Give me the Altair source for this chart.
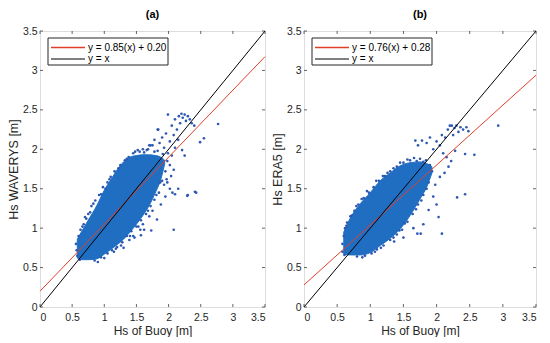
import altair as alt
import pandas as pd

TICKS = [0, 0.5, 1, 1.5, 2, 2.5, 3, 3.5]

# ---------------- Panel (a): WAVERYS ----------------
a_core_x = [0.58, 0.65, 0.75, 0.88, 1.00, 1.10, 1.20, 1.30, 1.40, 1.50, 1.60, 1.70, 1.80, 1.88, 1.94]
a_core_lo = [0.62, 0.60, 0.60, 0.61, 0.67, 0.73, 0.79, 0.86, 0.95, 1.05, 1.16, 1.29, 1.46, 1.62, 1.82]
a_core_hi = [0.86, 0.96, 1.10, 1.28, 1.48, 1.61, 1.74, 1.84, 1.90, 1.92, 1.93, 1.93, 1.92, 1.90, 1.86]

a_pts_x = [1.68, 1.72, 1.78, 1.83, 1.86, 1.90, 1.93, 1.96, 1.99, 2.02, 2.05, 2.08, 2.10, 2.13, 2.16, 2.18,
           2.20, 2.22, 2.25, 2.27, 2.30, 2.33, 2.36, 2.40, 2.10, 2.15, 2.21, 2.25, 2.08, 2.02, 1.97, 1.93,
           1.99, 2.05, 2.49, 2.77, 2.41, 2.30, 2.08, 1.82, 1.62, 1.56, 1.39, 1.73, 1.57, 1.47, 2.29, 2.43,
           2.06, 2.10, 2.15, 1.98, 2.04, 1.84, 2.55, 1.60, 1.70, 1.75,
           0.58, 0.57, 0.56, 0.60, 0.63, 0.68, 0.72, 0.75, 0.80, 0.86, 0.92, 0.98, 1.05, 1.10, 1.16, 1.25,
           1.32, 1.38, 1.45, 1.55, 1.62,
           0.85, 0.95, 1.05, 1.12, 1.20, 1.28, 1.35, 1.42, 1.50, 1.57, 1.65, 1.72, 1.78, 1.85, 1.90, 1.95,
           1.98, 1.70, 1.75, 1.88, 1.95, 2.02, 1.60, 1.45, 1.30, 1.15,
           0.66, 0.70, 0.78, 0.83, 0.95, 1.02, 1.08, 1.22, 1.35, 1.48, 1.52, 1.66, 1.78, 1.83, 1.91, 0.62,
           0.90, 1.00, 1.18, 1.26, 1.40, 1.53, 1.68, 1.81, 1.87]
a_pts_y = [2.00, 2.05, 2.12, 2.25, 2.08, 2.15, 2.02, 2.20, 2.44, 2.10, 2.30, 2.18, 2.38, 2.25, 2.42, 2.33,
           2.45, 2.40, 2.44, 2.36, 2.42, 2.38, 2.33, 2.30, 2.02, 2.12, 1.99, 1.92, 1.74, 1.80, 1.62, 1.55,
           1.95, 1.92, 2.09, 2.32, 1.46, 1.42, 0.98, 1.11, 0.98, 0.98, 0.85, 0.97, 0.91, 0.88, 1.41, 1.45,
           1.45, 1.43, 1.50, 1.58, 1.66, 2.25, 2.14, 2.00, 2.05, 2.05,
           0.65, 0.72, 0.80, 0.90, 0.98, 1.05, 1.12, 1.18, 1.28, 1.35, 1.42, 1.52, 1.58, 1.65, 1.72, 1.80,
           1.86, 1.90, 1.95, 1.97, 1.96,
           0.59, 0.63, 0.68, 0.72, 0.76, 0.82, 0.90, 0.96, 1.02, 1.10, 1.18, 1.28, 1.36, 1.45, 1.60, 1.72,
           1.85, 1.15, 1.22, 1.30, 1.40, 1.50, 1.05, 0.90, 0.75, 0.70,
           1.02, 1.14, 1.20, 1.31, 1.43, 1.50, 1.62, 1.76, 1.88, 1.97, 1.99, 1.99, 1.97, 1.98, 1.94, 0.60,
           0.57, 0.62, 0.74, 0.78, 0.90, 1.02, 1.22, 1.42, 1.58]

a_fit_label = "y = 0.85(x) + 0.20"
a_fit_x = [0, 3.5]
a_fit_y = [0.20, 3.175]

# ---------------- Panel (b): ERA5 ----------------
b_core_x = [0.60, 0.70, 0.85, 1.00, 1.15, 1.30, 1.45, 1.60, 1.75, 1.85, 1.93]
b_core_lo = [0.67, 0.66, 0.66, 0.69, 0.78, 0.87, 0.99, 1.16, 1.37, 1.52, 1.70]
b_core_hi = [0.95, 1.13, 1.31, 1.45, 1.60, 1.70, 1.79, 1.83, 1.84, 1.82, 1.78]

b_pts_x = [1.68, 1.72, 1.78, 1.85, 1.90, 1.95, 2.00, 2.05, 2.08, 2.13, 2.17, 2.20, 2.23, 2.27, 2.30, 2.33,
           2.36, 2.40, 2.45, 2.48, 2.25, 2.10, 2.15, 2.28, 2.43, 2.57, 2.93, 2.31, 2.43, 2.08, 1.76, 1.71,
           1.36, 1.88, 2.03, 1.09, 1.98, 2.05, 2.12, 1.95, 2.00, 1.80, 1.65, 1.50, 2.18, 2.22,
           0.58, 0.58, 0.60, 0.62, 0.65, 0.70, 0.76, 0.82, 0.90, 0.98, 1.05, 1.13, 1.22, 1.30, 1.40, 1.50,
           1.60, 1.70, 1.80,
           0.80, 0.92, 1.02, 1.10, 1.20, 1.30, 1.40, 1.48, 1.56, 1.64, 1.72, 1.80, 1.88, 1.93,
           0.64, 0.72, 0.79, 0.87, 0.95, 1.19, 1.26, 1.35, 1.45, 1.56, 1.66, 1.75, 1.84, 1.90,
           0.88, 1.07, 1.16, 1.35, 1.44, 1.52, 1.69, 1.77, 1.85, 0.61]
b_pts_y = [2.11, 2.05, 2.11, 2.08, 2.15, 2.00, 2.10, 2.05, 2.18, 2.15, 2.25, 2.30, 2.30, 2.27, 2.30, 2.22,
           2.28, 2.25, 2.28, 2.23, 2.18, 1.95, 1.90, 1.98, 1.94, 1.93, 2.30, 1.39, 1.43, 0.93, 0.93, 0.93,
           0.83, 1.23, 1.14, 1.60, 1.55, 1.65, 1.70, 1.40, 1.30, 1.05, 1.00, 0.88, 1.78, 1.85,
           0.70, 0.80, 0.90, 1.00, 1.07, 1.15, 1.22, 1.30, 1.38, 1.45, 1.52, 1.60, 1.66, 1.72, 1.78, 1.83,
           1.86, 1.85, 1.84,
           0.64, 0.65, 0.68, 0.73, 0.78, 0.85, 0.92, 0.98, 1.08, 1.18, 1.30, 1.42, 1.58, 1.72,
           1.03, 1.16, 1.28, 1.37, 1.47, 1.66, 1.70, 1.76, 1.83, 1.87, 1.89, 1.88, 1.86, 1.80,
           0.63, 0.70, 0.75, 0.88, 0.97, 1.06, 1.24, 1.35, 1.50, 0.66]

b_fit_label = "y = 0.76(x) + 0.28"
b_fit_x = [0, 3.5]
b_fit_y = [0.28, 2.94]

ID_LABEL = "y = x"
ID_X = [0, 3.5]
ID_Y = [0, 3.5]

FONT = "Liberation Sans"
AXC = "#262626"
CORE = "#1F6EC2"
DOT = "#2C58B2"
RED = "#E0402A"


def panel(title, ylab, cx, clo, chi, px, py, fit_label, fx, fy, W, H):
    xs = alt.Scale(domain=[0, 3.5], nice=False, zero=False)
    ys = alt.Scale(domain=[0, 3.5], nice=False, zero=False)
    xaxis = alt.Axis(values=TICKS, format=".1~f", title="Hs of Buoy [m]", ticks=False, domain=False,
                     grid=False, labelPadding=5, titlePadding=3, titleFontWeight="normal",
                     labelFontSize=10.5, titleFontSize=12, labelFont=FONT, titleFont=FONT,
                     labelColor=AXC, titleColor=AXC)
    yaxis = alt.Axis(values=TICKS, format=".1~f", title=ylab, ticks=False, domain=False,
                     grid=False, labelPadding=3, titlePadding=2, titleFontWeight="normal",
                     labelFontSize=10.5, titleFontSize=12.5, labelFont=FONT, titleFont=FONT,
                     labelColor=AXC, titleColor=AXC)

    def X(f):
        return alt.X(f, type="quantitative", scale=xs, axis=xaxis)

    def Y(f):
        return alt.Y(f, type="quantitative", scale=ys, axis=yaxis)

    core = pd.DataFrame({"x": cx, "lo": clo, "hi": chi})
    pts = pd.DataFrame({"x": px, "y": py})
    lines = pd.DataFrame({
        "x": list(fx) + list(ID_X),
        "y": list(fy) + list(ID_Y),
        "series": [fit_label] * len(fx) + [ID_LABEL] * len(ID_X),
    })
    tk = pd.DataFrame({"t": TICKS})

    area = alt.Chart(core).mark_area(color=CORE, stroke=CORE, strokeWidth=1, interpolate="monotone").encode(
        x=X("x"), y=Y("lo"), y2=alt.Y2("hi"))
    dots = alt.Chart(pts).mark_circle(size=7, color=DOT, opacity=1).encode(x=X("x"), y=Y("y"))
    ln = alt.Chart(lines).mark_line(strokeWidth=1).encode(
        x=X("x"), y=Y("y"), detail="series:N",
        color=alt.Color("series:N", scale=alt.Scale(domain=[fit_label, ID_LABEL], range=[RED, "#000000"]),
                        legend=None))
    tb = alt.Chart(tk).mark_tick(color=AXC, thickness=1, size=3).encode(x=X("t"), y=alt.value(H - 1.5))
    tt = alt.Chart(tk).mark_tick(color=AXC, thickness=1, size=3).encode(x=X("t"), y=alt.value(1.5))
    tl = alt.Chart(tk).mark_tick(color=AXC, thickness=1, size=3).encode(y=Y("t"), x=alt.value(1.5))
    tr = alt.Chart(tk).mark_tick(color=AXC, thickness=1, size=3).encode(y=Y("t"), x=alt.value(W - 1.5))

    # legend box (MATLAB style, inside top-left)
    one = pd.DataFrame({"a": [0]})
    box = alt.Chart(one).mark_rect(fill="white", stroke=AXC, strokeWidth=1).encode(
        x=alt.value(8), x2=alt.value(128), y=alt.value(7), y2=alt.value(34))
    r1 = alt.Chart(one).mark_rule(color=RED, stroke=RED, strokeWidth=1.5).encode(
        x=alt.value(11), x2=alt.value(45), y=alt.value(16.5))
    r2 = alt.Chart(one).mark_rule(color="#000000", stroke="#000000", strokeWidth=1).encode(
        x=alt.value(11), x2=alt.value(45), y=alt.value(28))
    t1 = alt.Chart(pd.DataFrame({"label": [fit_label]})).mark_text(
        align="left", baseline="middle", font=FONT, fontSize=10, color="#000000").encode(
        text="label:N", x=alt.value(48), y=alt.value(16.5))
    t2 = alt.Chart(pd.DataFrame({"label": [ID_LABEL]})).mark_text(
        align="left", baseline="middle", font=FONT, fontSize=10, color="#000000").encode(
        text="label:N", x=alt.value(48), y=alt.value(28))

    return alt.layer(area, dots, ln, tb, tt, tl, tr, box, r1, r2, t1, t2).properties(
        width=W, height=H,
        title=alt.Title(title, fontWeight="bold", fontSize=11, font=FONT, offset=6, color="#000000"))


pa = panel("(a)", "Hs WAVERYS [m]", a_core_x, a_core_lo, a_core_hi, a_pts_x, a_pts_y,
           a_fit_label, a_fit_x, a_fit_y, 225, 276)
pb = panel("(b)", "Hs ERA5 [m]", b_core_x, b_core_lo, b_core_hi, b_pts_x, b_pts_y,
           b_fit_label, b_fit_x, b_fit_y, 232, 276)

chart = alt.hconcat(pa, pb, spacing=39, bounds="flush").properties(
    padding={"left": -2, "top": 0, "right": 0, "bottom": 0}
).configure_view(
    stroke=AXC, strokeWidth=1
).configure(background="white")

chart.save("out.html", embed_options={"renderer": "svg", "actions": False})
